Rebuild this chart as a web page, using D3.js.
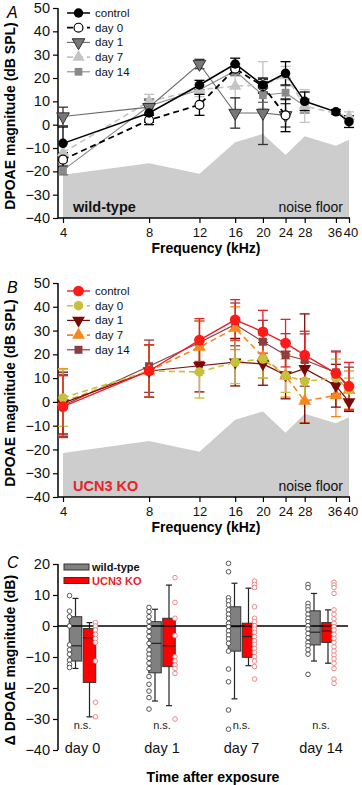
<!DOCTYPE html>
<html><head><meta charset="utf-8">
<script src="https://cdn.jsdelivr.net/npm/d3@7"></script>
<style>body{margin:0;background:#fff}svg{display:block;font-family:"Liberation Sans",Arial,sans-serif}</style>
</head><body><svg id="c" width="362" height="785"></svg>
<script>
// ---------- DATA ----------
const freqs = [4, 8, 12, 16, 20, 24, 28, 36, 40];
const freqTickLabels = ["4", "8", "12", "16", "20", "24", "28", "36", "40"];
const dpoaeTicks = [-40, -30, -20, -10, 0, 10, 20, 30, 40, 50];
const noiseFloor = [-21.5, -16.5, -21, -7.5, -4, -13, -5, -9, -6.5];

// Panel A: wild-type (mean, error)
const wtControl = [-8, 5, 17, 26, 17, 22, 10, 5.5, 1.3];
const wtControlErr = [7, 4, 2, 2.5, 3, 5, 4, 1, 2.5];
const wtDay0 = [-15, 2, 8.5, 24, 16.5, 4, null, null, null];
const wtDay0Err = [3, 2, 4.5, 2, 3, 7, null, null, null];
const wtDay1 = [3.5, 7.5, 26, 5, 5, 4, null, null, null];
const wtDay1Err = [4, 3, 2, 6.5, 13.5, 5, null, null, null];
const wtDay7 = [-12, 10, 15, 16.5, 17, 21, 8, null, 3.5];
const wtDay7Err = [4, 3, 3, 5, 10, 4, 7, null, 2];
const wtDay14 = [-19.5, 8, 15, 23, 12.6, 13.7, 8, null, null];
const wtDay14Err = [2, 3, 2, 2, 3, 3, 3, null, null];

// Panel B: UCN3 KO (mean, error)
const koControl = [-2, 13, 26, 34.5, 29.5, 24.7, 19.7, 12, 6.6];
const koControlErr = [13, 11, 9, 8.5, 9, 10, 10, 9, 10];
const koDay0 = [1.7, 13, 12.6, 16.7, 18, 11, 8.7, 10, 5];
const koDay0Err = [12, 11, 11, 9, 8, 7, 8, 8, 5];
const koDay1 = [-0.5, 13, 15.2, 16.7, 16, 11.3, 14, 6.8, 0];
const koDay1Err = [13, 11, 11, 10, 9, 10, 23, 9, 4];
const koDay7 = [0, 13, 23, 31, 19, 11, 0.3, 2.8, 5];
const koDay7Err = [14, 11, 11, 9, 9, 9, 9, 9, 8];
const koDay14 = [-1.5, 15, 25, 32.6, 25.3, 19.7, 17.6, 12.4, 5.6];
const koDay14Err = [13, 11, 9, 9, 9, 9, 11, 9, 9];

const seriesNames = ["control", "day 0", "day 1", "day 7", "day 14"];

// Panel C: change in DPOAE magnitude
const days = ["day 0", "day 1", "day 7", "day 14"];
const deltaTicks = [-40, -30, -20, -10, 0, 10, 20];
const wtQ1 = [-11.3, -15.1, -8.1, -6.1];
const wtMedian = [-6.4, -5.6, -0.2, -2.0];
const wtQ3 = [3.0, 1.4, 6.2, 4.9];
const wtWhiskLo = [-13.7, -24.2, -23.5, -11.3];
const wtWhiskHi = [8.9, 5.4, 13.8, 10.5];
const koQ1 = [-18.2, -13.1, -10.1, -5.3];
const koMedian = [-3.8, -6.4, -3.4, -1.6];
const koQ3 = [-0.8, 2.5, 0.9, 1.1];
const koWhiskLo = [-29.3, -25.7, -12.8, -12.0];
const koWhiskHi = [1.1, 13.2, 12.2, 5.2];
const wtPoints = [
  [9.8, 4.8, 3.0, 0, -6.1, -7.7, -9.1, -11, -12.4, -13.4],
  [6.0, 4.6, 3.0, 1.4, -0.2, -1.8, -3.4, -5.6, -7.7, -9.1, -10.4, -12.0, -13.7, -16.3, -18.8, -21, -23.1, -26.8],
  [20.2, 17.5, 9.1, 8.1, 6.8, 5.2, 3.8, 2.5, 0.9, -0.2, -1.6, -2.9, -4.2, -5.6, -8.1, -13.9, -18, -27.1, -33.3],
  [13.4, 12.4, 7.3, 6.2, 5.2, 3.8, 2.5, 1.4, 0.1, -1.0, -2.4, -3.8, -5.3, -6.4, -7.7, -9.1, -15.6]
];
const koPoints = [
  [1.1, 0, -1.3, -2.7, -4.0, -5.3, -11.3, -24.6, -29.3],
  [15.6, 7.6, 2.5, -3.1, -9.9, -11.3, -12.6, -13.7, -15.3, -30],
  [14.5, 13.4, 12.4, 6.2, 2.5, 1.4, 0.1, -1.0, -2.0, -3.4, -4.8, -5.9, -7.2, -8.5, -9.9, -11.3, -13.1, -17.1],
  [14.1, 13.2, 12.4, 10.5, 5.2, 3.8, 2.3, 0.9, -0.2, -1.3, -2.7, -4.0, -5.3, -6.7, -8.1, -9.4, -10.6, -12.0, -13.7, -17.1, -18.5]
];
const sigLabels = ["n.s.", "n.s.", "n.s.", "n.s."];

// ---------- DRAW ----------
const svg = d3.select("#c");
const X0 = 58;

function freqPanel(g, cfg) {
  const x = d3.scaleLog().domain([4, 40]).range([63, 349]);
  const y = d3.scaleLinear().domain([-40, 50]).range([cfg.bottom, cfg.top]);
  // noise floor
  const area = d3.area().x((d, i) => x(freqs[i])).y0(y(-40)).y1(d => y(d));
  g.append("path").attr("d", area(noiseFloor)).attr("fill", "#cdcdcd");

  // axes
  const ya = d3.axisLeft(y).tickValues(dpoaeTicks).tickSize(5).tickPadding(3).tickFormat(d3.format("d"));
  const yg = g.append("g").attr("transform", `translate(${X0},0)`).call(ya);
  yg.select(".domain").remove();
  g.append("line").attr("x1", X0).attr("x2", X0).attr("y1", y(50)).attr("y2", y(-40)).attr("stroke", "#000").attr("stroke-width", 1.5);
  const xa = d3.axisBottom(x).tickValues(freqs).tickSize(5).tickPadding(5).tickFormat((d, i) => freqTickLabels[i]);
  const xg = g.append("g").attr("transform", `translate(0,${y(-40)})`).call(xa);
  xg.select(".domain").remove();
  g.append("line").attr("x1", X0).attr("x2", 350).attr("y1", y(-40)).attr("y2", y(-40)).attr("stroke", "#000").attr("stroke-width", 1.5);
  yg.selectAll("text").attr("font-size", 14.5).attr("fill", "#111");
  xg.selectAll("text").attr("font-size", 13).attr("fill", "#111")
    .attr("dx", d => d === 36 ? -1.5 : d === 40 ? 1.5 : 0);
  [yg, xg].forEach(a => a.selectAll(".tick line").attr("stroke", "#000").attr("stroke-width", 1.2));

  // series
  const series = cfg.series.slice().reverse();
  series.forEach(s => {
    const pts = freqs.map((f, i) => ({f, v: s.values[i], e: s.err[i]})).filter(p => p.v != null);
    const eg = g.append("g").attr("stroke", s.errColor || s.stroke).attr("stroke-width", 1.3);
    pts.forEach(p => {
      if (p.e == null) return;
      eg.append("line").attr("x1", x(p.f)).attr("x2", x(p.f)).attr("y1", y(p.v - p.e)).attr("y2", y(p.v + p.e));
      [p.v - p.e, p.v + p.e].forEach(v => eg.append("line").attr("x1", x(p.f) - 5).attr("x2", x(p.f) + 5).attr("y1", y(v)).attr("y2", y(v)));
    });
  });
  series.forEach(s => {
    const pts = freqs.map((f, i) => ({f, v: s.values[i]})).filter(p => p.v != null);
    g.append("path").attr("d", d3.line().x(p => x(p.f)).y(p => y(p.v))(pts))
      .attr("fill", "none").attr("stroke", s.stroke).attr("stroke-width", s.width)
      .attr("stroke-dasharray", s.dash || null);
    pts.forEach(p => drawMarker(g, x(p.f), y(p.v), s));
  });

  // legend
  cfg.series.forEach((s, i) => {
    const ly = cfg.legendY + i * 14.7;
    g.append("line").attr("x1", 67).attr("x2", 90).attr("y1", ly).attr("y2", ly)
      .attr("stroke", s.stroke).attr("stroke-width", s.width).attr("stroke-dasharray", s.dash || null);
    drawMarker(g, 78.5, ly, s);
    g.append("text").attr("x", 95).attr("y", ly + 4).attr("font-size", 11.5).attr("fill", "#111").text(seriesNames[i]);
  });

  // labels
  g.append("text").attr("x", 73).attr("y", y(-40) - 6).attr("font-size", 14.5).attr("font-weight", "bold")
    .attr("fill", cfg.labelColor).text(cfg.label);
  g.append("text").attr("x", 343).attr("y", y(-40) - 6).attr("font-size", 14).attr("text-anchor", "end")
    .attr("fill", "#111").text("noise floor");
  g.append("text").attr("x", 206).attr("y", cfg.bottom + 35).attr("font-size", 14).attr("font-weight", "bold")
    .attr("text-anchor", "middle").text("Frequency (kHz)");
  g.append("text").attr("transform", `translate(15,${(cfg.top + cfg.bottom) / 2 + 3}) rotate(-90)`)
    .attr("font-size", 14).attr("font-weight", "bold").attr("text-anchor", "middle").text("DPOAE magnitude (dB SPL)");
  g.append("text").attr("x", 7).attr("y", cfg.top + 10).attr("font-size", 16).attr("font-style", "italic").text(cfg.letter);
}

function drawMarker(g, cx, cy, s) {
  const types = {circle: d3.symbolCircle, tri: d3.symbolTriangle, triDown: d3.symbolTriangle, square: d3.symbolSquare};
  g.append("path").attr("d", d3.symbol().type(types[s.shape]).size(s.size)())
    .attr("transform", `translate(${cx},${cy})` + (s.shape === "triDown" ? " rotate(180)" : ""))
    .attr("fill", s.fill).attr("stroke", s.mStroke || "none").attr("stroke-width", s.mStrokeW || 1);
}

const gA = svg.append("g");
freqPanel(gA, {
  top: 8, bottom: 218, legendY: 13, label: "wild-type", labelColor: "#111", letter: "A",
  series: [
    {values: wtControl, err: wtControlErr, stroke: "#000", width: 1.5, shape: "circle", size: 70, fill: "#000"},
    {values: wtDay0, err: wtDay0Err, stroke: "#000", width: 1.8, dash: "6,4", shape: "circle", size: 62, fill: "#fff", mStroke: "#000", mStrokeW: 1.2, errColor: "#000"},
    {values: wtDay1, err: wtDay1Err, stroke: "#6a6a6a", width: 1.1, shape: "triDown", size: 70, fill: "#777", mStroke: "#333", mStrokeW: 1, errColor: "#333"},
    {values: wtDay7, err: wtDay7Err, stroke: "#c4c4c4", width: 1.6, dash: "6,4", shape: "tri", size: 65, fill: "#c4c4c4"},
    {values: wtDay14, err: wtDay14Err, stroke: "#8a8a8a", width: 1.1, shape: "square", size: 60, fill: "#8a8a8a", errColor: "#666"}
  ]
});

const gB = svg.append("g");
freqPanel(gB, {
  top: 283, bottom: 497, legendY: 291, label: "UCN3 KO", labelColor: "#e8232a", letter: "B",
  series: [
    {values: koControl, err: koControlErr, stroke: "#e8202a", width: 1.4, shape: "circle", size: 90, fill: "#ff1a1a"},
    {values: koDay0, err: koDay0Err, stroke: "#c3c23a", width: 1.6, dash: "6,4", shape: "circle", size: 70, fill: "#c3c23a"},
    {values: koDay1, err: koDay1Err, stroke: "#7a0a0a", width: 1.2, shape: "triDown", size: 70, fill: "#7a0a0a"},
    {values: koDay7, err: koDay7Err, stroke: "#f7861e", width: 1.6, dash: "6,4", shape: "tri", size: 70, fill: "#f7861e"},
    {values: koDay14, err: koDay14Err, stroke: "#8b3f45", width: 1.2, shape: "square", size: 64, fill: "#8b3f45"}
  ]
});

// Panel C
const gC = svg.append("g");
const yC = d3.scaleLinear().domain([-40, 20]).range([750, 564]);
const xC = d3.scalePoint().domain(days).range([82.5, 321]);
const yCa = d3.axisLeft(yC).tickValues(deltaTicks).tickSize(5).tickPadding(3);
const yCg = gC.append("g").attr("transform", `translate(${X0},0)`).call(yCa);
yCg.select(".domain").remove();
yCg.selectAll("text").attr("font-size", 14.5).attr("fill", "#111");
yCg.selectAll(".tick line").attr("stroke", "#000").attr("stroke-width", 1.2);
gC.append("line").attr("x1", X0).attr("x2", X0).attr("y1", yC(20)).attr("y2", yC(-40)).attr("stroke", "#000").attr("stroke-width", 1.5);

function boxes(stats, offset, fill) {
  days.forEach((d, i) => {
    const cx = xC(d) + offset;
    const w = 12.5;
    gC.append("line").attr("x1", cx).attr("x2", cx).attr("y1", yC(stats.lo[i])).attr("y2", yC(stats.hi[i])).attr("stroke", "#222").attr("stroke-width", 1.2);
    [stats.lo[i], stats.hi[i]].forEach(v => gC.append("line").attr("x1", cx - 3).attr("x2", cx + 3).attr("y1", yC(v)).attr("y2", yC(v)).attr("stroke", "#222").attr("stroke-width", 1.2));
    gC.append("rect").attr("x", cx - w / 2).attr("width", w).attr("y", yC(stats.q3[i])).attr("height", yC(stats.q1[i]) - yC(stats.q3[i]))
      .attr("fill", fill).attr("stroke", "#333").attr("stroke-width", 1);
    gC.append("line").attr("x1", cx - w / 2).attr("x2", cx + w / 2).attr("y1", yC(stats.med[i])).attr("y2", yC(stats.med[i])).attr("stroke", "#222").attr("stroke-width", 1.2);
  });
}
boxes({q1: wtQ1, med: wtMedian, q3: wtQ3, lo: wtWhiskLo, hi: wtWhiskHi}, -7, "#808080");
boxes({q1: koQ1, med: koMedian, q3: koQ3, lo: koWhiskLo, hi: koWhiskHi}, 7, "#ff0000");
gC.append("line").attr("x1", X0).attr("x2", 348).attr("y1", yC(0)).attr("y2", yC(0)).attr("stroke", "#000").attr("stroke-width", 1.5);

function points(list, offset, color) {
  days.forEach((d, i) => {
    list[i].forEach(v => gC.append("circle").attr("cx", xC(d) + offset).attr("cy", yC(v)).attr("r", 2.3)
      .attr("fill", "#fff").attr("stroke", color).attr("stroke-width", 0.9));
  });
}
points(wtPoints, -13, "#444");
points(koPoints, 13, "#ee7a7a");

days.forEach((d, i) => {
  gC.append("text").attr("x", xC(d)).attr("y", 729).attr("font-size", 11).attr("text-anchor", "middle").attr("fill", "#222").text(sigLabels[i]);
  gC.append("text").attr("x", xC(d)).attr("y", 753).attr("font-size", 14.5).attr("text-anchor", "middle").attr("fill", "#111").text(d);
});
gC.append("text").attr("x", 213).attr("y", 782).attr("font-size", 14).attr("font-weight", "bold").attr("text-anchor", "middle").text("Time after exposure");
gC.append("text").attr("transform", `translate(15,660) rotate(-90)`).attr("font-size", 14).attr("font-weight", "bold")
  .attr("text-anchor", "middle").text("\u0394 DPOAE magnitude (dB)");
gC.append("text").attr("x", 7).attr("y", 568).attr("font-size", 16).attr("font-style", "italic").text("C");

// legend C
[["wild-type", "#808080", "#111"], ["UCN3 KO", "#ff0000", "#e8232a"]].forEach((l, i) => {
  const ly = 567 + i * 13.5;
  gC.append("rect").attr("x", 64).attr("y", ly - 3).attr("width", 25).attr("height", 6).attr("fill", l[1]).attr("stroke", "#333").attr("stroke-width", 1);
  gC.append("text").attr("x", 92).attr("y", ly + 4).attr("font-size", 11).attr("font-weight", "bold").attr("fill", l[2]).text(l[0]);
});
</script></body></html>
